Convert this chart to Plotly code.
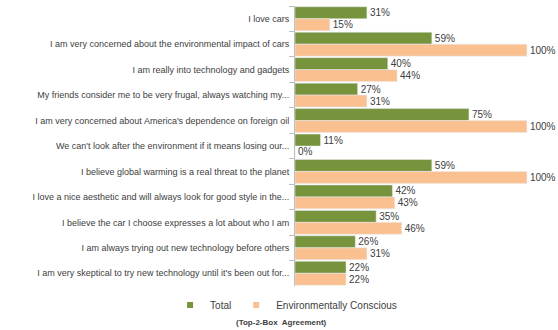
import plotly.graph_objects as go

statements = [
    "I love cars",
    "I am very concerned about the environmental impact of cars",
    "I am really into technology and gadgets",
    "My friends consider me to be very frugal, always watching my...",
    "I am very concerned about America's dependence on foreign oil",
    "We can't look after the environment if it means losing our...",
    "I believe global warming is a real threat to the planet",
    "I love a nice aesthetic and will always look for good style in the...",
    "I believe the car I choose expresses a lot about who I am",
    "I am always trying out new technology before others",
    "I am very skeptical to try new technology until it's been out for...",
]
total = [31, 59, 40, 27, 75, 11, 59, 42, 35, 26, 22]
env_conscious = [15, 100, 44, 31, 100, 0, 100, 43, 46, 31, 22]
series_names = ["Total", "Environmentally Conscious"]

GREEN = "#77933C"
PEACH = "#FAC090"
TEXT = "#404040"
FONT = "Liberation Sans"

fig = go.Figure()
for name, values, color in zip(series_names, [total, env_conscious], [GREEN, PEACH]):
    fig.add_trace(go.Bar(
        y=statements, x=values, orientation="h", name=name,
        marker=dict(color=color),
        texttemplate="%{x}%", textposition="outside",
        textfont=dict(size=10, color=TEXT, family=FONT),
        cliponaxis=False, showlegend=False,
    ))

# small square legend keys
for name, color in zip(series_names, [GREEN, PEACH]):
    fig.add_trace(go.Scatter(
        x=[None], y=[None], mode="markers", name=name,
        marker=dict(symbol="square", size=6, color=color),
        showlegend=True,
    ))

fig.update_layout(
    width=558, height=330,
    margin=dict(l=295, r=0, t=6, b=44),
    paper_bgcolor="white", plot_bgcolor="white",
    barmode="group", bargap=0.06, bargroupgap=0.0,
    font=dict(family=FONT, size=9, color=TEXT),
    showlegend=True,
    legend=dict(
        orientation="h", x=-0.475, xanchor="left", y=-0.068, yanchor="middle",
        font=dict(size=10, color=TEXT, family=FONT),
        itemwidth=30, tracegroupgap=0,
    ),
    xaxis=dict(
        range=[0, 113.4], showgrid=False, zeroline=False,
        showticklabels=False, ticks="", showline=False,
    ),
    yaxis=dict(
        autorange="reversed", automargin=False,
        showline=True, linecolor="#BFBFBF", linewidth=1,
        ticks="outside", tickson="boundaries", ticklen=5, tickcolor="#BFBFBF",
        tickfont=dict(size=9, color=TEXT, family=FONT),
        ticklabelstandoff=3,
        showgrid=False,
    ),
    annotations=[dict(
        text="<b>(Top-2-Box  Agreement)</b>", xref="paper", yref="paper",
        x=-0.053, y=-0.132, xanchor="center", yanchor="middle",
        showarrow=False, font=dict(size=8, color=TEXT, family=FONT),
    )],
)

fig.write_html("out.html")
